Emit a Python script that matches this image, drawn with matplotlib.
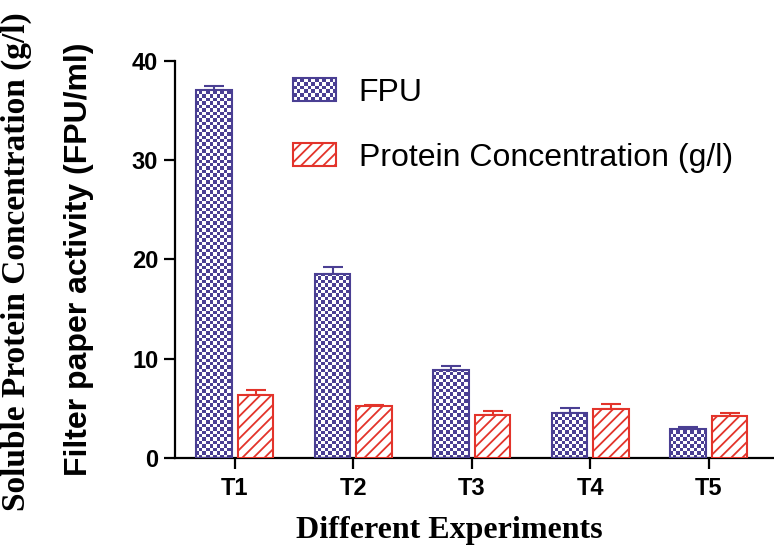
import numpy as np
import matplotlib
matplotlib.use("Agg")
import matplotlib.pyplot as plt
from matplotlib import font_manager
from matplotlib.patches import Rectangle
from matplotlib.image import BboxImage
from matplotlib.transforms import Bbox, TransformedBbox
from matplotlib.legend_handler import HandlerPatch

# data
experiments = ["T1", "T2", "T3", "T4", "T5"]
fpu = [37.1, 18.5, 8.9, 4.5, 2.9]
fpu_err = [0.4, 0.7, 0.4, 0.5, 0.25]
protein = [6.3, 5.2, 4.3, 4.9, 4.2]
protein_err = [0.5, 0.15, 0.4, 0.5, 0.35]

blue = "#4a3f93"
red = "#e3342b"

installed = {f.name for f in font_manager.fontManager.ttflist}
narrow = "Liberation Sans Narrow" if "Liberation Sans Narrow" in installed else "Liberation Sans"
serif = "Liberation Serif"

plt.rcParams["hatch.linewidth"] = 1.3

# checkerboard used to fill the FPU bars
def checker(nx, ny):
    a = (np.add.outer(np.arange(ny), np.arange(nx)) % 2).astype(float)
    rgb = np.ones((ny, nx, 3))
    rgb[a == 0] = np.array(matplotlib.colors.to_rgb(blue))
    return rgb

class CheckerHandler(HandlerPatch):
    def create_artists(self, legend, orig_handle, xdescent, ydescent,
                       width, height, fontsize, trans):
        r = Rectangle((-xdescent, -ydescent), width, height,
                      facecolor="none", edgecolor=blue, lw=1.5, transform=trans)
        bb = TransformedBbox(Bbox.from_bounds(-xdescent, -ydescent, width, height), trans)
        img = BboxImage(bb, interpolation="nearest")
        img.set_data(checker(12, 6))
        return [img, r]

fig = plt.figure(figsize=(7.74, 5.55), dpi=100)
ax = fig.add_axes([0.226, 0.175, 0.774, 0.715])

x = np.arange(1, len(experiments) + 1)
w = 0.30
off = 0.175

fpu_bars = ax.bar(x - off, fpu, w, facecolor="none", edgecolor=blue, lw=1.5, zorder=3)
prot_bars = ax.bar(x + off, protein, w, facecolor="white", edgecolor=red, lw=1.5,
                   hatch="///", zorder=3)

ax.errorbar(x - off, fpu, yerr=[np.zeros(5), fpu_err], fmt="none", ecolor=blue,
            elinewidth=1.5, capsize=7, capthick=1.5, zorder=2)
ax.errorbar(x + off, protein, yerr=[np.zeros(5), protein_err], fmt="none", ecolor=red,
            elinewidth=1.5, capsize=7, capthick=1.5, zorder=2)

ax.set_xlim(0.494, 5.55)
ax.set_ylim(0, 40)

# checker fill, clipped to each FPU bar
board = checker(172, 116)
for b in fpu_bars:
    im = ax.imshow(board, extent=[0.494, 5.55, 0, 40], aspect="auto",
                   interpolation="nearest", zorder=2.5)
    im.set_clip_path(b)

for s in ["top", "right"]:
    ax.spines[s].set_visible(False)
for s in ["left", "bottom"]:
    ax.spines[s].set_linewidth(1.6)

ax.set_yticks([0, 10, 20, 30, 40])
ax.set_xticks(x)
ax.set_xticklabels(experiments)
ax.tick_params(axis="both", length=8, width=1.6, direction="out")
for lab in ax.get_yticklabels() + ax.get_xticklabels():
    lab.set_fontfamily(narrow)
    lab.set_fontweight("bold")
    lab.set_fontsize(17)
ax.tick_params(axis="y", pad=4)
ax.tick_params(axis="x", pad=6)

ax.set_ylabel("Filter paper activity (FPU/ml)", fontfamily=narrow, fontweight="bold",
              fontsize=23, va="center")
ax.yaxis.set_label_coords(-0.160, 0.5)
fig.text(0.021, 0.528, "Soluble Protein Concentration (g/l)", rotation=90,
         fontfamily=serif, fontweight="bold", fontsize=24, ha="center", va="center")
fig.text(0.580, 0.045, "Different Experiments", fontfamily=serif, fontweight="bold",
         fontsize=23, ha="center", va="center")

h1 = Rectangle((0, 0), 1, 1, facecolor="white", edgecolor=blue)
h2 = Rectangle((0, 0), 1, 1, facecolor="white", edgecolor=red, hatch="///", lw=1.5)
leg = ax.legend([h1, h2], ["FPU", "Protein Concentration (g/l)"],
                handler_map={h1: CheckerHandler()},
                loc="upper left", bbox_to_anchor=(0.175, 0.99), borderaxespad=0,
                frameon=False, prop={"family": narrow, "size": 23},
                handlelength=1.35, handleheight=0.72, handletextpad=0.72,
                labelspacing=1.09)

fig.savefig("out.png", dpi=100)
